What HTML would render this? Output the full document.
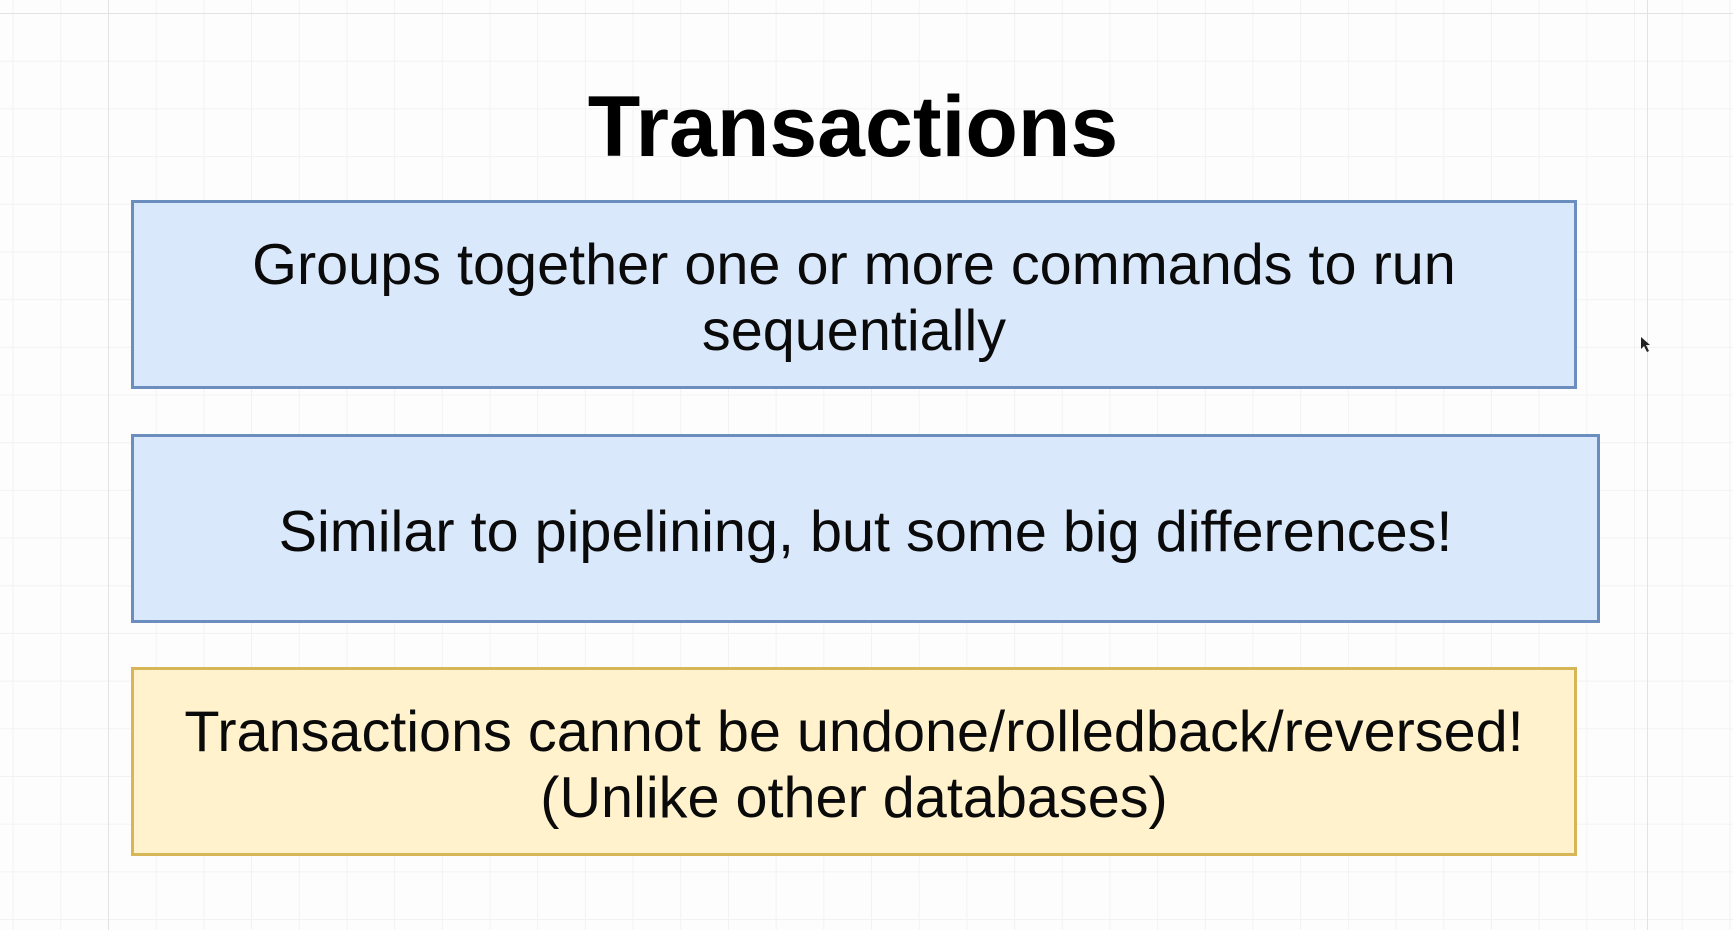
<!DOCTYPE html>
<html><head><meta charset="utf-8"><style>
html,body{margin:0;padding:0;}
body{width:1733px;height:930px;position:relative;overflow:hidden;background:#fdfdfd;
background-image:linear-gradient(to right,#f2f2f2 1px,transparent 1px),linear-gradient(to bottom,#f2f2f2 1px,transparent 1px);
background-size:47.7px 47.7px;background-position:108px 13px;font-family:"Liberation Sans",Arial,sans-serif;}
.vl{position:absolute;top:0;bottom:0;width:1px;background:#e2e2e2;}
.hl{position:absolute;left:0;right:0;height:1px;background:#e2e2e2;}
.title{position:absolute;left:0;width:1706px;top:77px;text-align:center;font-weight:bold;font-size:86px;line-height:100px;color:#000;}
.box{position:absolute;box-sizing:border-box;border:3.5px solid #6c8ebf;background:#dae8fc;display:flex;align-items:center;justify-content:center;text-align:center;font-size:57.6px;line-height:66px;color:#0a0a0a;padding-top:6px;}
.y{border-color:#d6b656;background:#fff2cc;}
</style></head><body>
<div class="vl" style="left:108px"></div>
<div class="vl" style="left:1647px"></div>
<div class="hl" style="top:13px"></div>
<div class="title">Transactions</div>
<div class="box" style="left:131px;top:200px;width:1446px;height:189px;">Groups together one or more commands to run<br>sequentially</div>
<div class="box" style="left:131px;top:434px;width:1469px;height:189px;">Similar to pipelining, but some big differences!</div>
<div class="box y" style="left:131px;top:667px;width:1446px;height:189px;">Transactions cannot be undone/rolledback/reversed!<br>(Unlike other databases)</div>
<svg style="position:absolute;left:1640px;top:336px" width="14" height="18" viewBox="0 0 14 18"><path d="M1 1 L1 13 L4 10 L7 16 L9 15 L6 9 L10 9 Z" fill="#222"/></svg>
</body></html>
